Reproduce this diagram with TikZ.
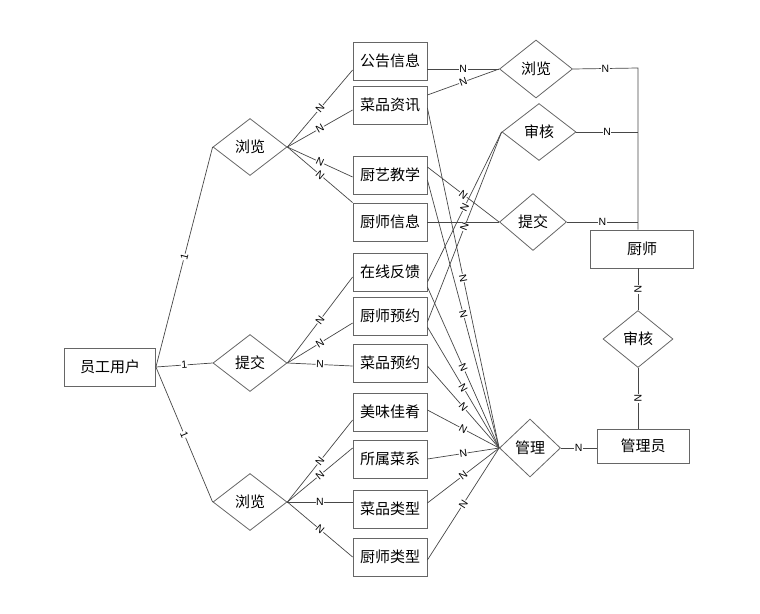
\documentclass[tikz,border=0pt]{standalone}
\usepackage{fontspec}
\setmainfont{Noto Sans CJK SC}
\newfontfamily\labfont{Liberation Sans}
\usetikzlibrary{shapes.geometric}

\begin{document}
\begin{tikzpicture}[x=1pt,y=-1pt,
  ent/.style={draw=black!60, line width=0.8pt, minimum width=74pt, minimum height=38pt, inner sep=0pt, font=\fontsize{15}{17}\selectfont},
  rel/.style={draw=black!60, line width=0.8pt, diamond, minimum width=74pt, minimum height=57pt, inner sep=0pt, font=\fontsize{15}{17}\selectfont},
  lab/.style={fill=white, inner sep=0.5pt, sloped, font=\labfont\fontsize{10.5}{11}\selectfont},
  conn/.style={draw=black!72, line width=0.7pt}]
\useasboundingbox (0,0) rectangle (760,613);
% entities
\node[ent, minimum width=91pt] (yg) at (110,367) {员工用户};
\node[ent] (gg) at (390,61) {公告信息};
\node[ent] (cpzx) at (390,105) {菜品资讯};
\node[ent] (cyjx) at (390,175) {厨艺教学};
\node[ent] (csxx) at (390,222) {厨师信息};
\node[ent] (zxfk) at (390,272) {在线反馈};
\node[ent] (csyy) at (390,316) {厨师预约};
\node[ent] (cpyy) at (390,363) {菜品预约};
\node[ent] (mwjy) at (390,412) {美味佳肴};
\node[ent] (sscx) at (390,459) {所属菜系};
\node[ent] (cplx) at (390,509) {菜品类型};
\node[ent] (cslx) at (390,557) {厨师类型};
\node[ent, minimum width=103pt] (chef) at (642,249) {厨师};
\node[ent, minimum width=92pt, minimum height=34pt] (admin) at (643,446) {管理员};
% relations
\node[rel] (ll1) at (250,147) {浏览};
\node[rel] (tj1) at (250,363) {提交};
\node[rel] (ll2) at (250,502) {浏览};
\node[rel, minimum width=73pt, minimum height=58pt] (ll3) at (536,69) {浏览};
\node[rel] (sh1) at (539,132) {审核};
\node[rel, minimum width=67pt] (tj2) at (533,222) {提交};
\node[rel, minimum width=61pt, minimum height=58pt] (gl) at (530,448) {管理};
\node[rel, minimum width=70pt] (sh2) at (638,339) {审核};
\coordinate (tp) at (638,68);

% user side
\draw[conn] (yg.east) -- node[lab]{1} (ll1.west);
\draw[conn] (yg.east) -- node[lab]{1} (tj1.west);
\draw[conn] (yg.east) -- node[lab]{1} (ll2.west);
\draw[conn] (ll1.east) -- node[lab]{N} ([yshift=-9pt]gg.west);
\draw[conn] (ll1.east) -- node[lab]{N} ([yshift=-5pt]cpzx.west);
\draw[conn] (ll1.east) -- node[lab]{N} ([yshift=-2pt]cyjx.west);
\draw[conn] (ll1.east) -- node[lab]{N} (csxx.north west);
\draw[conn] (tj1.east) -- node[lab]{N} ([yshift=-5pt]zxfk.west);
\draw[conn] (tj1.east) -- node[lab]{N} ([yshift=-7pt]csyy.west);
\draw[conn] (tj1.east) -- node[lab]{N} ([yshift=-3pt]cpyy.west);
\draw[conn] (ll2.east) -- node[lab]{N} ([yshift=-8pt]mwjy.west);
\draw[conn] (ll2.east) -- node[lab]{N} ([yshift=11pt]sscx.west);
\draw[conn] (ll2.east) -- node[lab]{N} ([yshift=7pt]cplx.west);
\draw[conn] (ll2.east) -- node[lab]{N} (cslx.west);

% chef side
\draw[conn] ([yshift=-8pt]gg.east) -- node[lab]{N} (ll3.west);
\draw[conn] ([yshift=10pt]cpzx.east) -- node[lab]{N} (ll3.west);
\draw[conn] ([yshift=8pt]cyjx.east) -- node[lab]{N} (tj2.west);
\draw[conn] (csxx.east) -- (tj2.west);
\draw[conn] ([yshift=-10pt]zxfk.east) -- node[lab]{N} (sh1.west);
\draw[conn] ([yshift=-6pt]csyy.east) -- node[lab]{N} (sh1.west);
\draw[conn] (ll3.east) -- node[lab]{N} (tp) -- ([xshift=-4pt]chef.north);
\draw[conn] (sh1.east) -- node[lab]{N} (sh1.east -| tp);
\draw[conn] (tj2.east) -- node[lab]{N} (tj2.east -| tp);

% admin side
\draw[conn] ([yshift=-3pt]cpzx.east) -- node[lab]{N} (gl.west);
\draw[conn] ([yshift=-5pt]cyjx.east) -- node[lab]{N} (gl.west);
\draw[conn] ([yshift=-15pt]zxfk.east) -- node[lab]{N} (gl.west);
\draw[conn] ([yshift=-11pt]csyy.east) -- node[lab]{N} (gl.west);
\draw[conn] ([yshift=-3pt]cpyy.east) -- node[lab]{N} (gl.west);
\draw[conn] ([yshift=2pt]mwjy.east) -- node[lab]{N} (gl.west);
\draw[conn] (sscx.east) -- node[lab]{N} (gl.west);
\draw[conn] ([yshift=6pt]cplx.east) -- node[lab]{N} (gl.west);
\draw[conn] ([yshift=-3pt]cslx.east) -- node[lab]{N} (gl.west);
\draw[conn] (gl.east) -- node[lab]{N} (gl.east -| admin.west);
\draw[conn] ([xshift=-4pt]chef.south) -- node[lab]{N} (sh2.north);
\draw[conn] (sh2.south) -- node[lab]{N} ([xshift=-5pt]admin.north);
\end{tikzpicture}
\end{document}
